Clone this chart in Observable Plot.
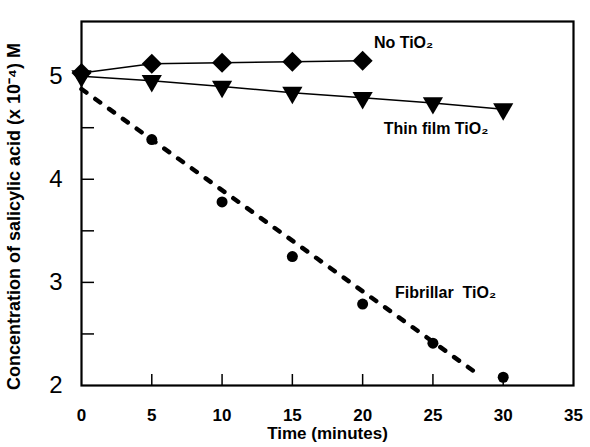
<!DOCTYPE html>
<html>
<head>
<meta charset="utf-8">
<script src="https://cdn.jsdelivr.net/npm/d3@7"></script>
<script src="https://cdn.jsdelivr.net/npm/@observablehq/plot@0.6"></script>
<style>
  html, body { margin: 0; padding: 0; background: white; }
</style>
</head>
<body>
<div id="chart"></div>
<script>
const times = [0, 5, 10, 15, 20, 25, 30];
const noTimes = [0, 5, 10, 15, 20];
const noTiO2 = [5.03, 5.12, 5.13, 5.14, 5.15];
const thinFilm = [5.0, 4.955, 4.9, 4.84, 4.79, 4.74, 4.68];
const fibrillar = [5.0, 4.385, 3.78, 3.25, 2.79, 2.41, 2.08];
const fitX = [0, 28.3];
const fitY = [4.875, 2.1];

const xTickLabels = [0, 5, 10, 15, 20, 25, 30, 35];
const xTickMarks = [5, 10, 15, 20, 25, 30];
const yTickLabels = [2, 3, 4, 5];
const yTickMarks = [2.5, 3, 3.5, 4, 4.5];

const labels = [
  {text: "No TiO₂", x: 20.8, y: 5.32},
  {text: "Thin film TiO₂", x: 21.5, y: 4.49},
  {text: "Fibrillar  TiO₂", x: 22.3, y: 2.9}
];

const noData = noTimes.map((t, i) => ({t, v: noTiO2[i]}));
const thinData = times.map((t, i) => ({t, v: thinFilm[i]}));
const fibData = times.map((t, i) => ({t, v: fibrillar[i]}));
const fitData = fitX.map((t, i) => ({t, v: fitY[i]}));

const chart = Plot.plot({
  width: 590,
  height: 447,
  marginLeft: 81,
  marginRight: 17,
  marginTop: 21,
  marginBottom: 62,
  style: {fontFamily: "'Liberation Sans', Arial, sans-serif", background: "white", color: "black"},
  x: {domain: [0, 35]},
  y: {domain: [2, 5.53]},
  marks: [
    Plot.tickX(xTickMarks, {x: d => d, insetTop: 353, strokeWidth: 1.5}),
    Plot.tickY(yTickMarks, {y: d => d, insetRight: 479, strokeWidth: 1.5}),
    Plot.axisX({ticks: xTickLabels, tickSize: 0, tickPadding: 23, fontSize: 17, fontWeight: "bold", label: null, tickFormat: d => String(d)}),
    Plot.axisY({ticks: yTickLabels, tickSize: 0, tickPadding: 19, fontSize: 24, label: null, tickFormat: d => String(d)}),
    Plot.frame({strokeWidth: 2.2}),
    Plot.text(["Time (minutes)"], {frameAnchor: "bottom", dy: 53, fontSize: 17, fontWeight: "bold"}),
    Plot.text(["Concentration of salicylic acid (x 10⁻⁴) M"], {frameAnchor: "left", textAnchor: "middle", rotate: -90, dx: -67, dy: 13, fontSize: 18, fontWeight: "bold"}),
    Plot.line(fitData, {x: "t", y: "v", stroke: "black", strokeWidth: 4.5, strokeDasharray: "6,11", strokeLinecap: "round"}),
    Plot.line(noData, {x: "t", y: "v", stroke: "black", strokeWidth: 1.5}),
    Plot.line(thinData, {x: "t", y: "v", stroke: "black", strokeWidth: 1.5}),
    Plot.dot(fibData, {x: "t", y: "v", r: 5.5, fill: "black", symbol: "circle"}),
    Plot.dot(noData, {x: "t", y: "v", r: 8, fill: "black", symbol: "square", rotate: 45}),
    Plot.dot(thinData, {x: "t", y: "v", r: 7.5, fill: "black", symbol: "triangle", rotate: 180}),
    Plot.text(labels, {x: "x", y: "y", text: "text", textAnchor: "start", fontSize: 16, fontWeight: "bold"})
  ]
});
document.getElementById("chart").appendChild(chart);
</script>
</body>
</html>
